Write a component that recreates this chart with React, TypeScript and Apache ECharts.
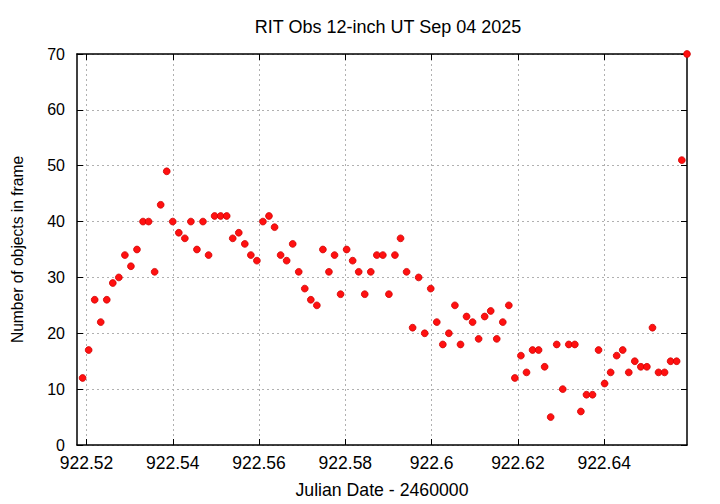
import React, { useEffect, useRef } from "react";
import * as echarts from "echarts";

const TITLE = "RIT Obs 12-inch UT Sep 04 2025";
const X_NAME = "Julian Date - 2460000";
const Y_NAME = "Number of objects in frame";

const julianDates: number[] = [
  922.5191, 922.5205, 922.5219, 922.5233, 922.5247, 922.5261, 922.5275, 922.5289, 922.5303, 922.5317,
  922.5331, 922.5344, 922.5358, 922.5372, 922.5386, 922.5400, 922.5414, 922.5428, 922.5442, 922.5456,
  922.5470, 922.5483, 922.5497, 922.5511, 922.5525, 922.5539, 922.5553, 922.5567, 922.5581, 922.5595,
  922.5609, 922.5623, 922.5636, 922.5650, 922.5664, 922.5678, 922.5692, 922.5706, 922.5720, 922.5734,
  922.5748, 922.5762, 922.5775, 922.5789, 922.5803, 922.5817, 922.5831, 922.5845, 922.5859, 922.5873,
  922.5887, 922.5901, 922.5915, 922.5928, 922.5942, 922.5956, 922.5970, 922.5984, 922.5998, 922.6012,
  922.6026, 922.6040, 922.6054, 922.6067, 922.6081, 922.6095, 922.6109, 922.6123, 922.6137, 922.6151,
  922.6165, 922.6179, 922.6193, 922.6207, 922.6220, 922.6234, 922.6248, 922.6262, 922.6276, 922.6290,
  922.6304, 922.6318, 922.6332, 922.6346, 922.6359, 922.6373, 922.6387, 922.6401, 922.6415, 922.6429,
  922.6443, 922.6457, 922.6471, 922.6485, 922.6499, 922.6512, 922.6526, 922.6540, 922.6554, 922.6568,
  922.6580, 922.6592,
];

const objectCounts: number[] = [
  12, 17, 26, 22, 26, 29, 30, 34, 32, 35,
  40, 40, 31, 43, 49, 40, 38, 37, 40, 35,
  40, 34, 41, 41, 41, 37, 38, 36, 34, 33,
  40, 41, 39, 34, 33, 36, 31, 28, 26, 25,
  35, 31, 34, 27, 35, 33, 31, 27, 31, 34,
  34, 27, 34, 37, 31, 21, 30, 20, 28, 22,
  18, 20, 25, 18, 23, 22, 19, 23, 24, 19,
  22, 25, 12, 16, 13, 17, 17, 14, 5, 18,
  10, 18, 18, 6, 9, 9, 17, 11, 13, 16,
  17, 13, 15, 14, 14, 21, 13, 13, 15, 15,
  51, 70,
];

const xTicks: number[] = [922.52, 922.54, 922.56, 922.58, 922.6, 922.62, 922.64];

const X_MIN = 922.5178;
const X_MAX = 922.6592;
const Y_MIN = 0;
const Y_MAX = 70;
const Y_STEP = 10;

const FONT = "Liberation Sans";

export default function App() {
  const ref = useRef<HTMLDivElement>(null);

  useEffect(() => {
    if (!ref.current) return;
    const chart = echarts.init(ref.current, null, { renderer: "svg" });
    const points = julianDates.map((x, i) => [x, objectCounts[i]]);
    const gridLine = { show: true, lineStyle: { color: "#b0b0b0", type: [2, 3] as any, width: 1 } };
    const frame = { show: true, onZero: false, lineStyle: { color: "#000", width: 1.5 } };
    const tickIn = { show: true, inside: true, length: 6, lineStyle: { color: "#000", width: 1 } };
    const xTickIn = { ...tickIn, customValues: xTicks };
    chart.setOption({
      animation: false,
      backgroundColor: "#fff",
      title: {
        text: TITLE,
        left: 383,
        top: 13,
        textAlign: "center",
        textStyle: { fontFamily: FONT, fontSize: 18, fontWeight: "normal", color: "#000" },
      },
      grid: { left: 77, top: 54, width: 610, height: 392, containLabel: false },
      xAxis: [
        {
          type: "value",
          min: X_MIN,
          max: X_MAX,
          name: X_NAME,
          nameLocation: "middle",
          nameGap: 36,
          nameTextStyle: { fontFamily: FONT, fontSize: 17.7, color: "#000" },
          axisLine: frame,
          axisTick: xTickIn,
          splitLine: gridLine,
          axisLabel: {
            customValues: xTicks,
            formatter: (v: number) => String(parseFloat(v.toFixed(2))),
            margin: 9,
            fontFamily: FONT,
            fontSize: 17.5,
            color: "#000",
          },
        },
        {
          type: "value",
          position: "top",
          min: X_MIN,
          max: X_MAX,
          axisLine: frame,
          axisTick: xTickIn,
          splitLine: { show: false },
          axisLabel: { show: false },
        },
      ],
      yAxis: [
        {
          type: "value",
          min: Y_MIN,
          max: Y_MAX,
          interval: Y_STEP,
          name: Y_NAME,
          nameLocation: "middle",
          nameGap: 52,
          nameTextStyle: { fontFamily: FONT, fontSize: 15.6, color: "#000" },
          axisLine: frame,
          axisTick: tickIn,
          splitLine: gridLine,
          axisLabel: { margin: 12, fontFamily: FONT, fontSize: 16, color: "#000" },
        },
        {
          type: "value",
          position: "right",
          min: Y_MIN,
          max: Y_MAX,
          interval: Y_STEP,
          axisLine: frame,
          axisTick: tickIn,
          splitLine: { show: false },
          axisLabel: { show: false },
        },
      ],
      series: [
        {
          type: "scatter",
          data: points,
          symbol: "circle",
          symbolSize: 6.8,
          clip: false,
          itemStyle: { color: "#ff1010", borderColor: "#d00000", borderWidth: 0.8, opacity: 1 },
          z: 5,
        },
      ],
    });
    return () => chart.dispose();
  }, []);

  return (
    <div
      ref={ref}
      style={{ position: "fixed", left: 0, top: 0, width: 720, height: 504, background: "#fff" }}
    />
  );
}
